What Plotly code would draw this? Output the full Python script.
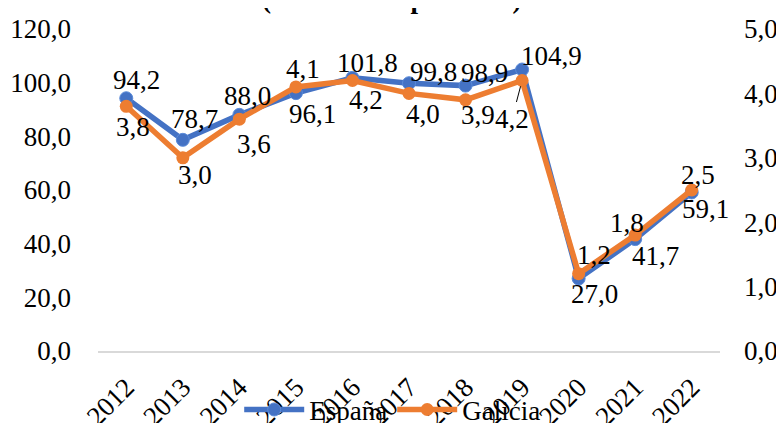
import plotly.graph_objects as go

years = [2012, 2013, 2014, 2015, 2016, 2017, 2018, 2019, 2020, 2021, 2022]
espana = [94.2, 78.7, 88.0, 96.1, 101.8, 99.8, 98.9, 104.9, 27.0, 41.7, 59.1]
galicia = [3.8, 3.0, 3.6, 4.1, 4.2, 4.0, 3.9, 4.2, 1.2, 1.8, 2.5]
left_ticks = [0, 20, 40, 60, 80, 100, 120]
right_ticks = [0, 1, 2, 3, 4, 5]
title_text = "(Millones de personas)"

# label offsets in pixels (dx, dy where dy positive = up)
esp_off = [(10, 18), (12, 21), (8, 19), (17, -21), (15, 15), (24, 11), (19, 13), (29, 14), (16, -15), (20, -17), (14, -17)]
gal_off = [(7, -21), (12, -17), (15, -25), (7, 18), (14, -19), (14, -21), (12, -15), (-10, -38), (15, 19), (-8, 12), (6, 15)]

BLUE = "#4472C4"
ORANGE = "#ED7D31"
FONT = "Liberation Serif"
FS = 27

def fmt(v):
    return f"{v:.1f}".replace(".", ",")

fig = go.Figure()
fig.add_trace(go.Scatter(
    x=years, y=espana, name="España", mode="lines+markers",
    line=dict(color=BLUE, width=5.5),
    marker=dict(color=BLUE, size=13, line=dict(color="#5B8BD9", width=1)),
    yaxis="y",
))
fig.add_trace(go.Scatter(
    x=years, y=galicia, name="Galicia", mode="lines+markers",
    line=dict(color=ORANGE, width=5.5),
    marker=dict(color=ORANGE, size=13),
    yaxis="y2",
))

annotations = []
for i, (yr, v) in enumerate(zip(years, espana)):
    dx, dy = esp_off[i]
    annotations.append(dict(x=yr, y=v, xref="x", yref="y", text=fmt(v), showarrow=False,
                            xshift=dx, yshift=dy, xanchor="center", yanchor="middle",
                            font=dict(family=FONT, size=FS, color="black")))
for i, (yr, v) in enumerate(zip(years, galicia)):
    dx, dy = gal_off[i]
    if yr == 2019:
        annotations.append(dict(x=yr, y=v, xref="x", yref="y2", text=fmt(v), showarrow=True,
                                arrowhead=0, arrowwidth=1, arrowcolor="black", ax=dx, ay=-dy,
                                standoff=6,
                                font=dict(family=FONT, size=FS, color="black")))
    else:
        annotations.append(dict(x=yr, y=v, xref="x", yref="y2", text=fmt(v), showarrow=False,
                                xshift=dx, yshift=dy, xanchor="center", yanchor="middle",
                                font=dict(family=FONT, size=FS, color="black")))

annotations.append(dict(x=0.472, y=1.04, xref="paper", yref="paper", text="<b>" + title_text + "</b>",
                        showarrow=False, xanchor="center", yanchor="bottom",
                        font=dict(family=FONT, size=FS, color="black")))

fig.update_layout(
    width=776, height=415,
    margin=dict(l=90, r=64, t=21, b=72, autoexpand=False),
    paper_bgcolor="white", plot_bgcolor="white",
    separators=",.",
    font=dict(family=FONT, size=FS, color="black"),
    showlegend=True,
    legend=dict(orientation="h", x=0.473, y=-0.183, xanchor="center", yanchor="middle",
                bgcolor="rgba(0,0,0,0)", font=dict(family=FONT, size=FS, color="black"),
                itemwidth=60),
    xaxis=dict(range=[2011.5, 2022.5], tickvals=years, showgrid=False, showline=True,
               linecolor="#D9D9D9", linewidth=1.5, ticks="", tickangle=-45, automargin=False,
               tickfont=dict(family=FONT, size=FS), zeroline=False, ticklabelstandoff=8),
    yaxis=dict(range=[0, 120], tickvals=left_ticks, tickformat=".1f", showgrid=False, zeroline=False,
               showline=False, ticks="", ticklabelstandoff=26, automargin=False,
               tickfont=dict(family=FONT, size=FS)),
    yaxis2=dict(range=[0, 5], tickvals=right_ticks, tickformat=".1f", overlaying="y", side="right",
                showgrid=False, zeroline=False, showline=False, ticks="", ticklabelstandoff=23,
                automargin=False, tickfont=dict(family=FONT, size=FS)),
    annotations=annotations,
)

fig.write_html("out.html")
